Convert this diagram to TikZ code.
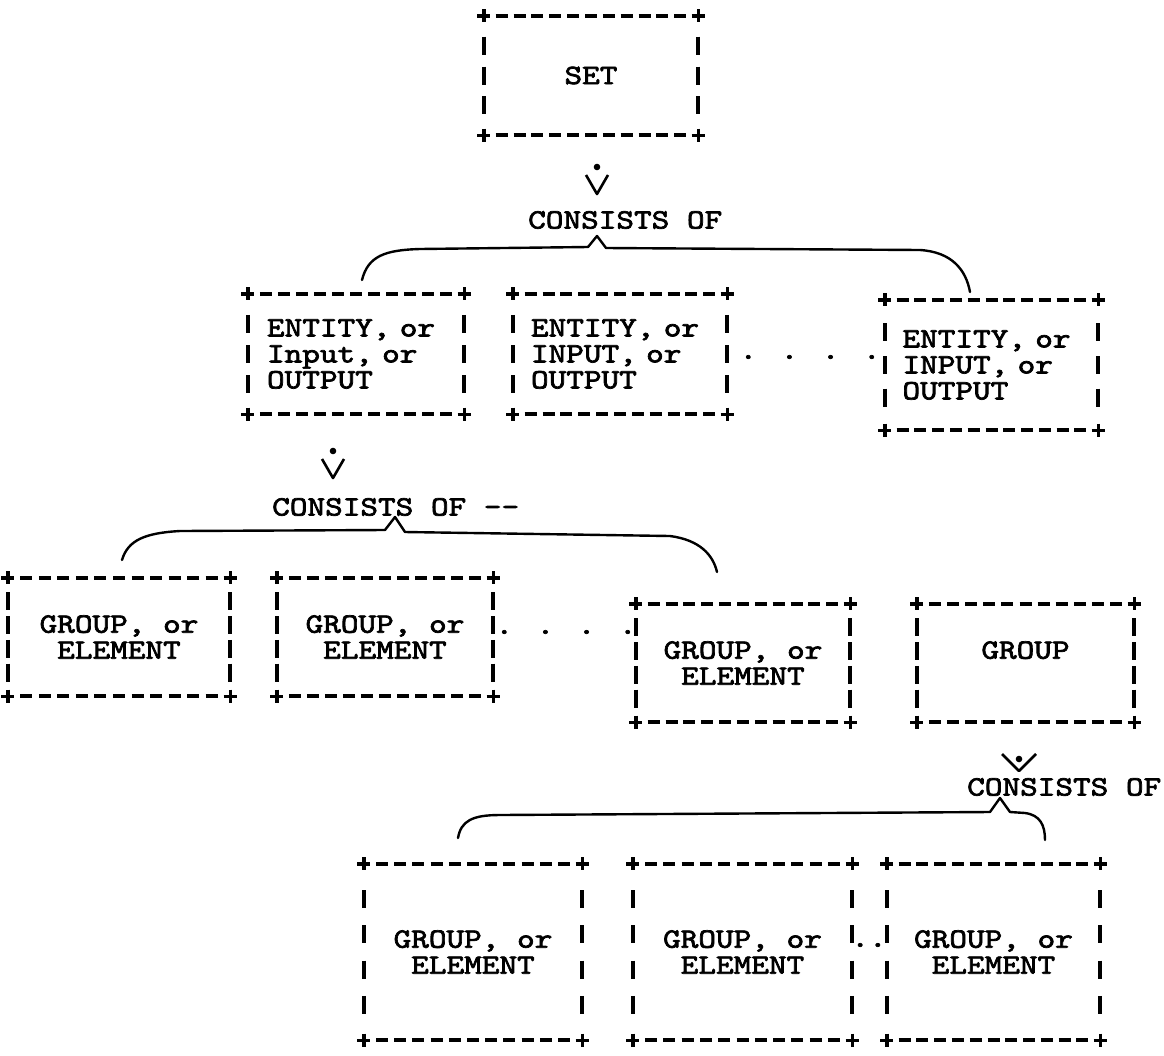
\documentclass[tikz,border=0pt]{standalone}
\usepackage{fontspec}
\newfontfamily\typer{lmmono10-regular}[Extension=.otf, FakeStretch=1.2, FakeBold=2.5]
\usetikzlibrary{calc,positioning}

\begin{document}
\begin{tikzpicture}[x=1pt,y=-1pt,
  card/.style={inner sep=0pt, align=center, font=\typer\fontsize{28}{26}\selectfont},
  listcard/.style={card, align=left, text width=178pt},
  words/.style={inner sep=0pt, anchor=west, font=\typer\fontsize{28}{26}\selectfont},
  dashmark/.style={line width=4pt},
  brace/.style={line width=2.4pt, line cap=round, line join=round},
  cross/.pic={\draw[line width=3.4pt] (-6.5,0) -- (6.5,0) (0,-6.5) -- (0,6.5);},
  vdot/.pic={\draw[line width=2.6pt, line join=round] (-11,-9) -- (0,10) -- (11,-9);
             \fill (0,-17) circle (3.3);},
  vdotin/.pic={\draw[line width=2.6pt, line join=round] (-17,-8) -- (0,9) -- (17,-8);
             \fill (0,-3) circle (3.3);}]
\fill[white] (0,0) rectangle (1164,1055);
\useasboundingbox (0,0) rectangle (1164,1055);
% the boxes
\node[card, minimum width=214pt, minimum height=119pt] (set) at (591,75.5) {SET};
\node[listcard, minimum width=216pt, minimum height=120pt] (ea) at (356,354) {ENTITY, or\\Input, or\\OUTPUT};
\node[listcard, minimum width=214pt, minimum height=120pt] (eb) at (620,354) {ENTITY, or\\INPUT, or\\OUTPUT};
\node[listcard, minimum width=213pt, minimum height=130pt] (ec) at (991.5,365) {ENTITY, or\\INPUT, or\\OUTPUT};
\node[card, minimum width=222pt, minimum height=118pt] (ga) at (119,637) {GROUP, or\\ELEMENT};
\node[card, minimum width=216pt, minimum height=118pt] (gb) at (385,637) {GROUP, or\\ELEMENT};
\node[card, minimum width=214pt, minimum height=118pt] (gc) at (743,663) {GROUP, or\\ELEMENT};
\node[card, minimum width=217pt, minimum height=118pt] (gd) at (1025.5,663) {GROUP\\\phantom{E}};
\node[card, minimum width=218pt, minimum height=176pt] (ha) at (473,952) {GROUP, or\\ELEMENT};
\node[card, minimum width=219pt, minimum height=176pt] (hb) at (742.5,952) {GROUP, or\\ELEMENT};
\node[card, minimum width=213pt, minimum height=176pt] (hc) at (993.5,952) {GROUP, or\\ELEMENT};
% typed borders: corners, dashes and bars
\foreach \bx/\n in {set/4,ea/4,eb/4,ec/4,ga/5,gb/5,gc/5,gd/5,ha/5,hb/5,hc/5} {
  \pgfmathtruncatemacro\m{\n-1}
  \foreach \cn in {north west,north east,south west,south east}
    \pic at (\bx.\cn) {cross};
  \foreach \k in {1,...,11} {
    \draw[dashmark] ($(\bx.north west)!{\k/12}!(\bx.north east)$) +(-6,0) -- +(6,0);
    \draw[dashmark] ($(\bx.south west)!{\k/12}!(\bx.south east)$) +(-6,0) -- +(6,0);
  }
  \foreach \k in {1,...,\m} {
    \draw[dashmark] ($(\bx.north west)!{\k/\n}!(\bx.south west)$) +(0,-9) -- +(0,9);
    \draw[dashmark] ($(\bx.north east)!{\k/\n}!(\bx.south east)$) +(0,-9) -- +(0,9);
  }
}
% dots between boxes
\node[words, anchor=center] (dots1) at (810,357) {. . . .};
\node[words, anchor=center] (dots2) at (566,632) {. . . .};
\node[words, anchor=center] (dots3) at (869,945) {..};
% consists of
\node[words] (cons1) at (528,220) {CONSISTS OF};
\node[words] (cons2) at (272,507) {CONSISTS OF --};
\node[words] (cons3) at (967,787) {CONSISTS OF};
\pic at (597,184) {vdot};
\pic at (333,468) {vdot};
\pic at (1019,762) {vdotin};
% the braces
\draw[brace] (362,280) .. controls (368,256) and (385,250) .. (420,249) -- (588,247)
   -- (597,236) -- (606,248) -- (920,250) .. controls (952,252) and (966,270) .. (970,292);
\draw[brace] (122,560) .. controls (128,540) and (145,533) .. (180,531) -- (385,530)
   -- (395,517) -- (405,532) -- (670,536) .. controls (700,540) and (713,555) .. (717,572);
\draw[brace] (458,838) .. controls (461,821) and (472,815) .. (500,815) -- (990,812)
   -- (1000,798) -- (1010,812) -- (1025,813) .. controls (1040,815) and (1045,825) .. (1045,840);
\end{tikzpicture}
\end{document}
